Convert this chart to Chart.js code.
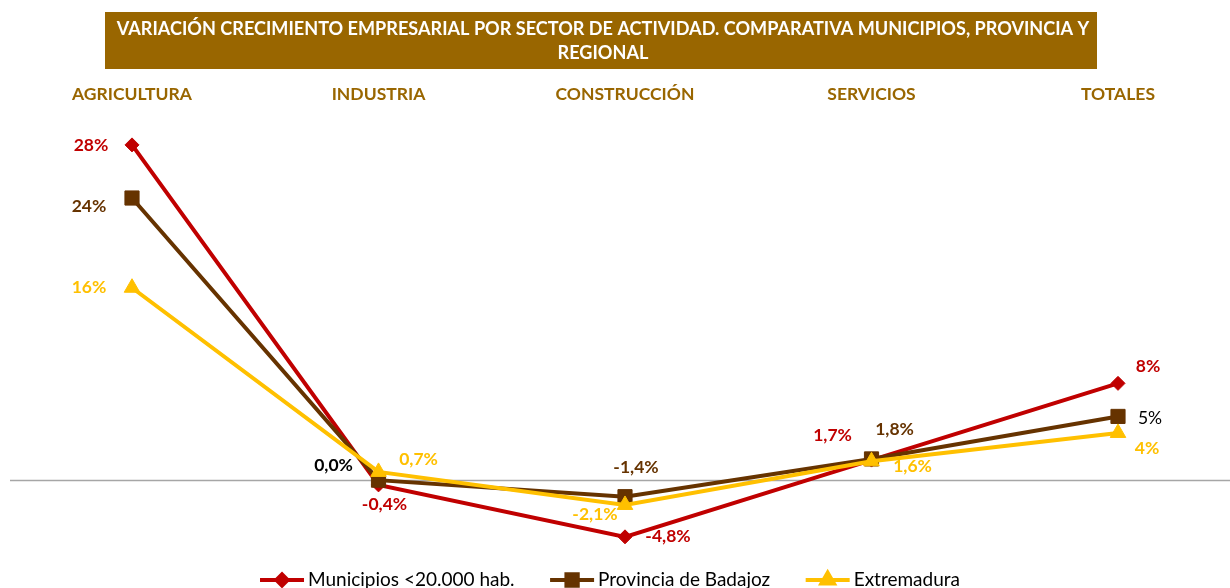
<!DOCTYPE html>
<html><head><meta charset="utf-8">
<script src="https://cdn.jsdelivr.net/npm/chart.js@4/dist/chart.umd.min.js"></script>
<style>html,body{margin:0;padding:0;background:#fff;}#wrap{position:relative;width:1230px;height:588px;}</style>
</head><body><div id="wrap"><canvas id="c" width="1230" height="588"></canvas></div>
<script>
const FONT = "Lato, 'Open Sans', sans-serif";
const titleLines = ['VARIACIÓN CRECIMIENTO EMPRESARIAL POR SECTOR DE ACTIVIDAD. COMPARATIVA MUNICIPIOS, PROVINCIA Y', 'REGIONAL'];
const categories = ['AGRICULTURA', 'INDUSTRIA', 'CONSTRUCCIÓN', 'SERVICIOS', 'TOTALES'];
const seriesNames = ['Municipios <20.000 hab.', 'Provincia de Badajoz', 'Extremadura'];
const municipios = [28.4, -0.4, -4.8, 1.7, 8.2];
const provincia = [23.9, 0.0, -1.4, 1.8, 5.4];
const extremadura = [16.3, 0.7, -2.1, 1.6, 4.0];
const labelDecimals = [0, 1, 1, 1, 0];

const colors = ['#C00000', '#663300', '#FFC000'];
const pointStyles = ['rectRot', 'rect', 'triangle'];
const pointRadii = [7, 10, 9];
// label offsets (px) relative to each point, per series
const labelOffsets = [
  [[-41, 0], [6, 19], [43, 0], [-39, -25], [30, -17]],
  [[-43, 8], [-45, -15], [11, -29], [23, -30], [32, 2]],
  [[-43, 0], [40, -13], [-30, 9], [41, 5], [29, 15]]
];
const labelColorOverride = {'1-1': ['#000000', true], '1-4': ['#000000', false]};

function fmt(v, d) { return v.toFixed(d).replace('.', ',') + '%'; }

const decor = {
  id: 'decor',
  beforeDraw(chart) {
    const ctx = chart.ctx;
    ctx.save();
    ctx.fillStyle = '#996600';
    ctx.fillRect(105, 12, 992, 57);
    ctx.fillStyle = '#ffffff';
    ctx.textAlign = 'center';
    ctx.textBaseline = 'middle';
    let size = 18;
    ctx.font = 'bold ' + size + 'px ' + FONT;
    const w = ctx.measureText(titleLines[0]).width;
    size = Math.min(19, size * 973 / w);
    ctx.font = 'bold ' + size.toFixed(2) + 'px ' + FONT;
    ctx.fillText(titleLines[0], 603, 29);
    ctx.fillText(titleLines[1], 603, 53);
    ctx.restore();
  },
  beforeDatasetsDraw(chart) {
    const ctx = chart.ctx;
    const y = Math.round(chart.scales.y.getPixelForValue(0)) + 0.5;
    ctx.save();
    ctx.strokeStyle = '#A6A6A6';
    ctx.lineWidth = 1.5;
    ctx.beginPath();
    ctx.moveTo(10, y);
    ctx.lineTo(1230, y);
    ctx.stroke();
    ctx.restore();
  },
  afterDatasetsDraw(chart) {
    const ctx = chart.ctx;
    ctx.save();
    ctx.textAlign = 'center';
    ctx.textBaseline = 'middle';
    chart.data.datasets.forEach((ds, di) => {
      const meta = chart.getDatasetMeta(di);
      meta.data.forEach((pt, i) => {
        const key = di + '-' + i;
        let color = colors[di], bold = true;
        if (labelColorOverride[key]) { color = labelColorOverride[key][0]; bold = labelColorOverride[key][1]; }
        ctx.fillStyle = color;
        ctx.font = (bold ? 'bold ' : '') + '17.5px ' + FONT;
        const off = labelOffsets[di][i];
        ctx.fillText(fmt(ds.data[i], labelDecimals[i]), pt.x + off[0], pt.y + off[1]);
      });
    });
    ctx.restore();
  },
  afterDraw(chart) {
    const ctx = chart.ctx;
    ctx.save();
    ctx.font = '19px ' + FONT;
    ctx.textBaseline = 'middle';
    ctx.textAlign = 'left';
    const lineLen = 44, gap = 4, itemGap = 35.5;
    const widths = seriesNames.map(n => ctx.measureText(n).width);
    const total = widths.reduce((a, b) => a + b, 0) + 3 * (lineLen + gap) + 2 * itemGap;
    let x = 610 - total / 2;
    const y = 580;
    seriesNames.forEach((n, i) => {
      ctx.strokeStyle = colors[i];
      ctx.lineWidth = 4;
      ctx.beginPath();
      ctx.moveTo(x, y); ctx.lineTo(x + lineLen, y); ctx.stroke();
      ctx.fillStyle = colors[i];
      ctx.strokeStyle = colors[i];
      Chart.helpers.drawPoint(ctx, {pointStyle: pointStyles[i], radius: pointRadii[i] * 0.8, rotation: 0, borderWidth: 1}, x + lineLen / 2, y);
      ctx.fillStyle = '#000000';
      ctx.fillText(n, x + lineLen + gap, y);
      x += lineLen + gap + widths[i] + itemGap;
    });
    ctx.restore();
  }
};

const seriesData = [municipios, provincia, extremadura];
const datasets = seriesData.map((d, i) => ({
  label: seriesNames[i],
  data: d,
  borderColor: colors[i],
  backgroundColor: colors[i],
  borderWidth: 4,
  pointStyle: pointStyles[i],
  pointRadius: pointRadii[i],
  pointBackgroundColor: colors[i],
  pointBorderColor: colors[i],
  pointBorderWidth: 1,
  tension: 0,
  fill: false,
  clip: false,
  order: 3 - i
}));

new Chart(document.getElementById('c'), {
  type: 'line',
  data: { labels: categories, datasets },
  options: {
    responsive: false,
    animation: false,
    devicePixelRatio: 1,
    layout: { padding: { left: 132, right: 112, top: 76, bottom: 37 } },
    plugins: { legend: { display: false }, tooltip: { enabled: false }, title: { display: false } },
    scales: {
      x: {
        type: 'category',
        position: 'top',
        offset: false,
        grid: { display: false },
        border: { display: false },
        ticks: { color: '#996600', font: { family: FONT, size: 17.5, weight: 'bold' }, padding: 13, maxRotation: 0, autoSkip: false },
        afterFit(s) { s.height = 50; }
      },
      y: { display: false, min: -6, max: 30 }
    }
  },
  plugins: [decor]
});
</script></body></html>
